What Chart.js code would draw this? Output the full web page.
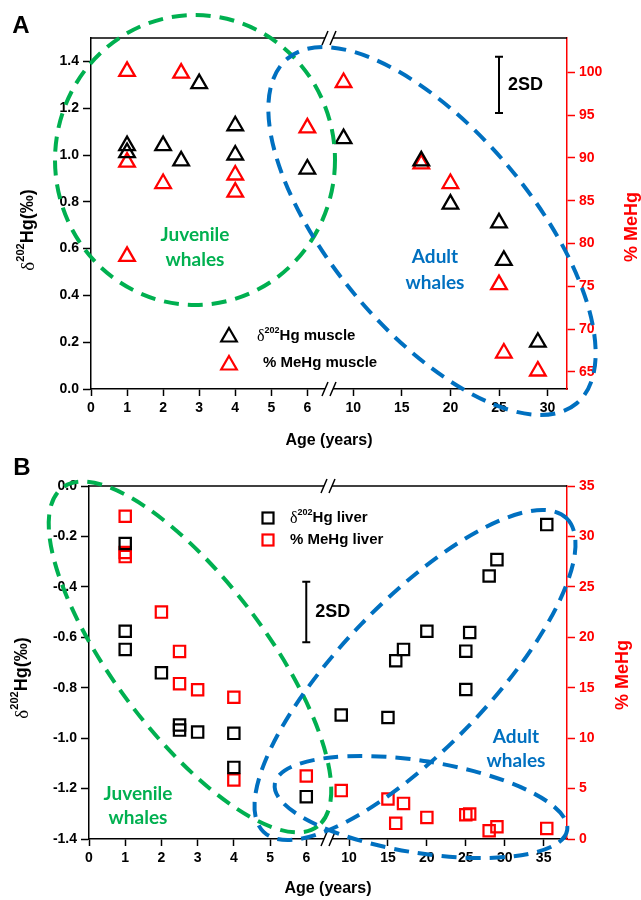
<!DOCTYPE html>
<html>
<head>
<meta charset="utf-8">
<script src="https://cdn.jsdelivr.net/npm/chart.js@4.4.1/dist/chart.umd.min.js"></script>
<style>
  html, body { margin: 0; padding: 0; background: #fff; }
  canvas { display: block; }
</style>
</head>
<body>
<canvas id="chartA" width="641" height="450"></canvas>
<canvas id="chartB" width="641" height="450"></canvas>
<script>
// ---- panel A: muscle ----
const ageMuscleHg = [1, 1, 2, 2.5, 3, 4, 4, 6, 9, 17, 20, 25, 25.5, 29];
const d202Muscle = [1.04, 1.01, 1.04, 0.975, 1.305, 1.125, 1.0, 0.94, 1.07, 0.975, 0.79, 0.71, 0.55, 0.20];
const ageMuscleMeHg = [1, 1, 1, 2, 2.5, 4, 4, 6, 9, 17, 20, 25, 25.5, 29];
const meHgMuscle = [100.1, 89.5, 78.5, 87.0, 99.9, 88.0, 86.0, 93.5, 98.8, 89.3, 87.0, 75.2, 67.2, 65.1];

// ---- panel B: liver ----
const ageLiverHg = [1, 1, 1, 2, 2.5, 2.5, 3, 4, 4, 6, 9, 15, 16, 17, 20, 25, 25, 25.5, 28, 29, 35.4];
const d202Liver = [-0.228, -0.576, -0.648, -0.741, -0.948, -0.968, -0.976, -0.981, -1.116, -1.232, -0.908, -0.918, -0.693, -0.648, -0.576, -0.655, -0.807, -0.581, -0.357, -0.292, -0.153];
const ageLiverMeHg = [1, 1, 1, 2, 2.5, 2.5, 3, 4, 4, 6, 9, 15, 16, 17, 20, 25, 25.5, 28, 29, 35.4];
const meHgLiver = [32.0, 28.4, 28.0, 22.5, 18.6, 15.4, 14.8, 14.05, 5.85, 6.25, 4.8, 3.97, 1.55, 3.53, 2.14, 2.41, 2.48, 0.82, 1.22, 1.05];

// tick labels
const xTicksA = [0, 1, 2, 3, 4, 5, 6, 10, 15, 20, 25, 30];
const xTicksB = [0, 1, 2, 3, 4, 5, 6, 10, 15, 20, 25, 30, 35];
const yTicksA = [0, 0.2, 0.4, 0.6, 0.8, 1.0, 1.2, 1.4];
const yTicksB = [-1.4, -1.2, -1.0, -0.8, -0.6, -0.4, -0.2, 0];
const meHgTicksA = [65, 70, 75, 80, 85, 90, 95, 100];
const meHgTicksB = [0, 5, 10, 15, 20, 25, 30, 35];

// 2SD bars: [age, centre, half length]
const sdBarA = [25, 1.30, 0.12];
const sdBarB = [6, -0.50, 0.12];

const GREEN = '#00b050';
const BLUE = '#0070c0';
const RED = '#ff0000';
const ARIAL = '"Liberation Sans", Arial, sans-serif';

// linear scale with a break in the middle of the axis
class BrokenAxis extends Chart.LinearScale {
  getPixelForValue(value) {
    const lo = this.options.breakLo, hi = this.options.breakHi;
    const mid = this.left + this.width * 0.5;
    if (value <= lo) return this.left + (value - this.min) / (lo - this.min) * (mid - this.left);
    return mid + (value - hi) / (this.max - hi) * (this.right - mid);
  }
  getValueForPixel(pixel) {
    const lo = this.options.breakLo, hi = this.options.breakHi;
    const mid = this.left + this.width * 0.5;
    if (pixel <= mid) return this.min + (pixel - this.left) / (mid - this.left) * (lo - this.min);
    return hi + (pixel - mid) / (this.right - mid) * (this.max - hi);
  }
}
BrokenAxis.id = 'broken';
BrokenAxis.defaults = Chart.LinearScale.defaults;
Chart.register(BrokenAxis);

const tickFont = { family: ARIAL, size: 14, weight: 'bold' };

function pts(xs, ys) {
  return xs.map((x, i) => ({ x: x, y: ys[i] }));
}

function dashedEllipse(ctx, cx, cy, rx, ry, rot, color) {
  ctx.save();
  ctx.strokeStyle = color;
  ctx.lineWidth = 4;
  ctx.setLineDash([15, 9]);
  ctx.beginPath();
  ctx.ellipse(cx, cy, rx, ry, rot * Math.PI / 180, 0, Math.PI * 2);
  ctx.stroke();
  ctx.restore();
}

// text made of pieces: [text, font, dy]
function richText(ctx, parts, x, y, align, color) {
  ctx.save();
  ctx.fillStyle = color;
  ctx.textBaseline = 'middle';
  ctx.textAlign = 'left';
  let total = 0;
  parts.forEach(p => { ctx.font = p[1]; total += ctx.measureText(p[0]).width; });
  let cx = align === 'center' ? x - total / 2 : x;
  parts.forEach(p => {
    ctx.font = p[1];
    ctx.fillText(p[0], cx, y + (p[2] || 0));
    cx += ctx.measureText(p[0]).width;
  });
  ctx.restore();
}

function deltaLabel(rest, size) {
  return [
    ['\u03b4', Math.round(size * 1.05) + 'px "Liberation Serif", serif', 1],
    ['202', 'bold ' + Math.round(size * 0.62) + 'px ' + ARIAL, -size * 0.38],
    [rest, 'bold ' + size + 'px ' + ARIAL, 0]
  ];
}

function drawTriangle(ctx, x, y, r, color) {
  ctx.save();
  ctx.strokeStyle = color;
  ctx.lineWidth = 2.2;
  ctx.beginPath();
  ctx.moveTo(x, y - r);
  ctx.lineTo(x + 0.866 * r, y + 0.5 * r);
  ctx.lineTo(x - 0.866 * r, y + 0.5 * r);
  ctx.closePath();
  ctx.stroke();
  ctx.restore();
}

function drawSquare(ctx, x, y, s, color) {
  ctx.save();
  ctx.strokeStyle = color;
  ctx.lineWidth = 2.2;
  ctx.strokeRect(x - s / 2, y - s / 2, s, s);
  ctx.restore();
}

function drawFrame(chart) {
  const ctx = chart.ctx, a = chart.chartArea;
  ctx.save();
  ctx.strokeStyle = '#000';
  ctx.lineWidth = 1.5;
  ctx.beginPath();
  ctx.moveTo(a.left, a.top);
  ctx.lineTo(a.right, a.top);
  ctx.stroke();
  // axis break marks
  const bx = a.left + (a.right - a.left) * 0.5;
  [a.top, a.bottom].forEach(y => {
    ctx.fillStyle = '#fff';
    ctx.fillRect(bx - 4, y - 2, 8, 4);
    ctx.beginPath();
    ctx.moveTo(bx - 7, y + 7); ctx.lineTo(bx - 1, y - 7);
    ctx.moveTo(bx + 1, y + 7); ctx.lineTo(bx + 7, y - 7);
    ctx.stroke();
  });
  ctx.restore();
}

function drawSD(chart, bar) {
  const ctx = chart.ctx;
  const x = chart.scales.x.getPixelForValue(bar[0]);
  const y1 = chart.scales.y.getPixelForValue(bar[1] + bar[2]);
  const y2 = chart.scales.y.getPixelForValue(bar[1] - bar[2]);
  ctx.save();
  ctx.strokeStyle = '#000';
  ctx.lineWidth = 2;
  ctx.beginPath();
  ctx.moveTo(x, y1); ctx.lineTo(x, y2);
  ctx.moveTo(x - 4, y1); ctx.lineTo(x + 4, y1);
  ctx.moveTo(x - 4, y2); ctx.lineTo(x + 4, y2);
  ctx.stroke();
  ctx.fillStyle = '#000';
  ctx.font = 'bold 18px ' + ARIAL;
  ctx.textBaseline = 'middle';
  ctx.fillText('2SD', x + 9, (y1 + y2) / 2);
  ctx.restore();
}

function centerText(ctx, lines, x, y, gap, font, color) {
  ctx.save();
  ctx.font = font;
  ctx.fillStyle = color;
  ctx.textAlign = 'center';
  ctx.textBaseline = 'middle';
  lines.forEach((t, i) => ctx.fillText(t, x, y + i * gap));
  ctx.restore();
}

function axisTitles(ctx, lx, ly, rx, ry) {
  ctx.save();
  ctx.translate(lx, ly);
  ctx.rotate(-Math.PI / 2);
  richText(ctx, deltaLabel('Hg(\u2030)', 18), 0, 0, 'center', '#000');
  ctx.restore();
  ctx.save();
  ctx.translate(rx, ry);
  ctx.rotate(-Math.PI / 2);
  ctx.font = 'bold 18px ' + ARIAL;
  ctx.fillStyle = RED;
  ctx.textAlign = 'center';
  ctx.textBaseline = 'middle';
  ctx.fillText('% MeHg', 0, 0);
  ctx.restore();
}

const labelFont = 'bold 19px Lato, "Open Sans", sans-serif';

const decorA = {
  id: 'decorA',
  afterDraw(chart) {
    const ctx = chart.ctx;
    drawFrame(chart);
    dashedEllipse(ctx, 195, 160, 140, 145, 0, GREEN);
    dashedEllipse(ctx, 432, 231, 225, 100, 50, BLUE);
    centerText(ctx, ['Juvenile', 'whales'], 195, 235, 25, labelFont, GREEN);
    centerText(ctx, ['Adult', 'whales'], 435, 257, 26, labelFont, BLUE);
    drawSD(chart, sdBarA);
    // legend
    drawTriangle(ctx, 229, 337, 9, '#000');
    drawTriangle(ctx, 229, 365, 9, RED);
    richText(ctx, deltaLabel('Hg muscle', 15), 257, 336, 'left', '#000');
    richText(ctx, [['% MeHg muscle', 'bold 15px ' + ARIAL, 0]], 263, 363, 'left', '#000');
    centerText(ctx, ['A'], 21, 26, 0, 'bold 24px ' + ARIAL, '#000');
    axisTitles(ctx, 28, 230, 632, 227);
  }
};

const decorB = {
  id: 'decorB',
  afterDraw(chart) {
    const ctx = chart.ctx;
    drawFrame(chart);
    dashedEllipse(ctx, 190, 207, 212, 76, 53, GREEN);
    dashedEllipse(ctx, 415, 225, 218, 74, -46, BLUE);
    dashedEllipse(ctx, 421, 357, 148, 46, 9, BLUE);
    centerText(ctx, ['Juvenile', 'whales'], 138, 344, 24, labelFont, GREEN);
    centerText(ctx, ['Adult', 'whales'], 516, 287, 24, labelFont, BLUE);
    drawSD(chart, sdBarB);
    drawSquare(ctx, 268, 68, 11, '#000');
    drawSquare(ctx, 268, 90, 11, RED);
    richText(ctx, deltaLabel('Hg liver', 15), 290, 68, 'left', '#000');
    richText(ctx, [['% MeHg liver', 'bold 15px ' + ARIAL, 0]], 290, 90, 'left', '#000');
    centerText(ctx, ['B'], 22, 18, 0, 'bold 24px ' + ARIAL, '#000');
    axisTitles(ctx, 22, 228, 623, 225);
  }
};

function scalesFor(cfg) {
  return {
    x: {
      type: 'broken',
      position: 'bottom',
      min: 0,
      max: cfg.xMax,
      breakLo: cfg.breakLo,
      breakHi: cfg.breakHi,
      afterBuildTicks: axis => { axis.ticks = cfg.xTicks.map(v => ({ value: v })); },
      afterFit: axis => { axis.height = 61; },
      ticks: { color: '#000', font: tickFont, padding: 4, maxRotation: 0, autoSkip: false, callback: v => String(v) },
      grid: { drawOnChartArea: false, tickLength: 7, tickWidth: 1.5, color: '#000' },
      border: { color: '#000', width: 1.5 },
      title: {
        display: true,
        text: 'Age (years)',
        color: '#000',
        font: { family: ARIAL, size: 16, weight: 'bold' },
        padding: { top: 0, bottom: cfg.titlePad }
      }
    },
    y: {
      type: 'linear',
      position: 'left',
      min: cfg.yMin,
      max: cfg.yMax,
      afterBuildTicks: axis => { axis.ticks = cfg.yTicks.map(v => ({ value: v })); },
      afterFit: axis => { axis.width = cfg.leftW; },
      ticks: { color: '#000', font: tickFont, padding: 4, callback: v => v.toFixed(1) },
      grid: { drawOnChartArea: false, tickLength: 8, tickWidth: 1.5, color: '#000' },
      border: { color: '#000', width: 1.5 }
    },
    y2: {
      type: 'linear',
      position: 'right',
      min: cfg.rMin,
      max: cfg.rMax,
      afterBuildTicks: axis => { axis.ticks = cfg.rTicks.map(v => ({ value: v })); },
      afterFit: axis => { axis.width = 74; },
      ticks: { color: RED, font: tickFont, padding: 4, callback: v => String(v) },
      grid: { drawOnChartArea: false, tickLength: 8, tickWidth: 1.5, color: RED },
      border: { color: RED, width: 1.5 }
    }
  };
}

const commonOptions = {
  responsive: false,
  animation: false,
  events: [],
  plugins: { legend: { display: false }, tooltip: { enabled: false } }
};

new Chart(document.getElementById('chartA').getContext('2d'), {
  type: 'scatter',
  data: {
    datasets: [
      {
        label: 'δ202Hg muscle',
        data: pts(ageMuscleHg, d202Muscle),
        yAxisID: 'y',
        pointStyle: 'triangle',
        pointRadius: 9,
        borderWidth: 2.3,
        borderColor: '#000',
        backgroundColor: 'rgba(0,0,0,0)'
      },
      {
        label: '% MeHg muscle',
        data: pts(ageMuscleMeHg, meHgMuscle),
        yAxisID: 'y2',
        pointStyle: 'triangle',
        pointRadius: 9,
        borderWidth: 2.3,
        borderColor: RED,
        backgroundColor: 'rgba(0,0,0,0)'
      }
    ]
  },
  options: Object.assign({}, commonOptions, {
    layout: { padding: { top: 38, left: 0, right: 0, bottom: 0 }, autoPadding: false },
    scales: scalesFor({
      xMax: 32, breakLo: 6.6, breakHi: 7.5, xTicks: xTicksA, titlePad: 0,
      yMin: 0, yMax: 1.5, yTicks: yTicksA, leftW: 91,
      rMin: 63, rMax: 104, rTicks: meHgTicksA
    })
  }),
  plugins: [decorA]
});

new Chart(document.getElementById('chartB').getContext('2d'), {
  type: 'scatter',
  data: {
    datasets: [
      {
        label: 'δ202Hg liver',
        data: pts(ageLiverHg, d202Liver),
        yAxisID: 'y',
        pointStyle: 'rect',
        pointRadius: 8,
        borderWidth: 2.2,
        borderColor: '#000',
        backgroundColor: 'rgba(0,0,0,0)'
      },
      {
        label: '% MeHg liver',
        data: pts(ageLiverMeHg, meHgLiver),
        yAxisID: 'y2',
        pointStyle: 'rect',
        pointRadius: 8,
        borderWidth: 2.2,
        borderColor: RED,
        backgroundColor: 'rgba(0,0,0,0)'
      }
    ]
  },
  options: Object.assign({}, commonOptions, {
    layout: { padding: { top: 36, left: 0, right: 0, bottom: 0 }, autoPadding: false },
    scales: scalesFor({
      xMax: 38, breakLo: 6.6, breakHi: 7.3, xTicks: xTicksB, titlePad: 2,
      yMin: -1.4, yMax: 0, yTicks: yTicksB, leftW: 89,
      rMin: 0, rMax: 35, rTicks: meHgTicksB
    })
  }),
  plugins: [decorB]
});
</script>
</body>
</html>
